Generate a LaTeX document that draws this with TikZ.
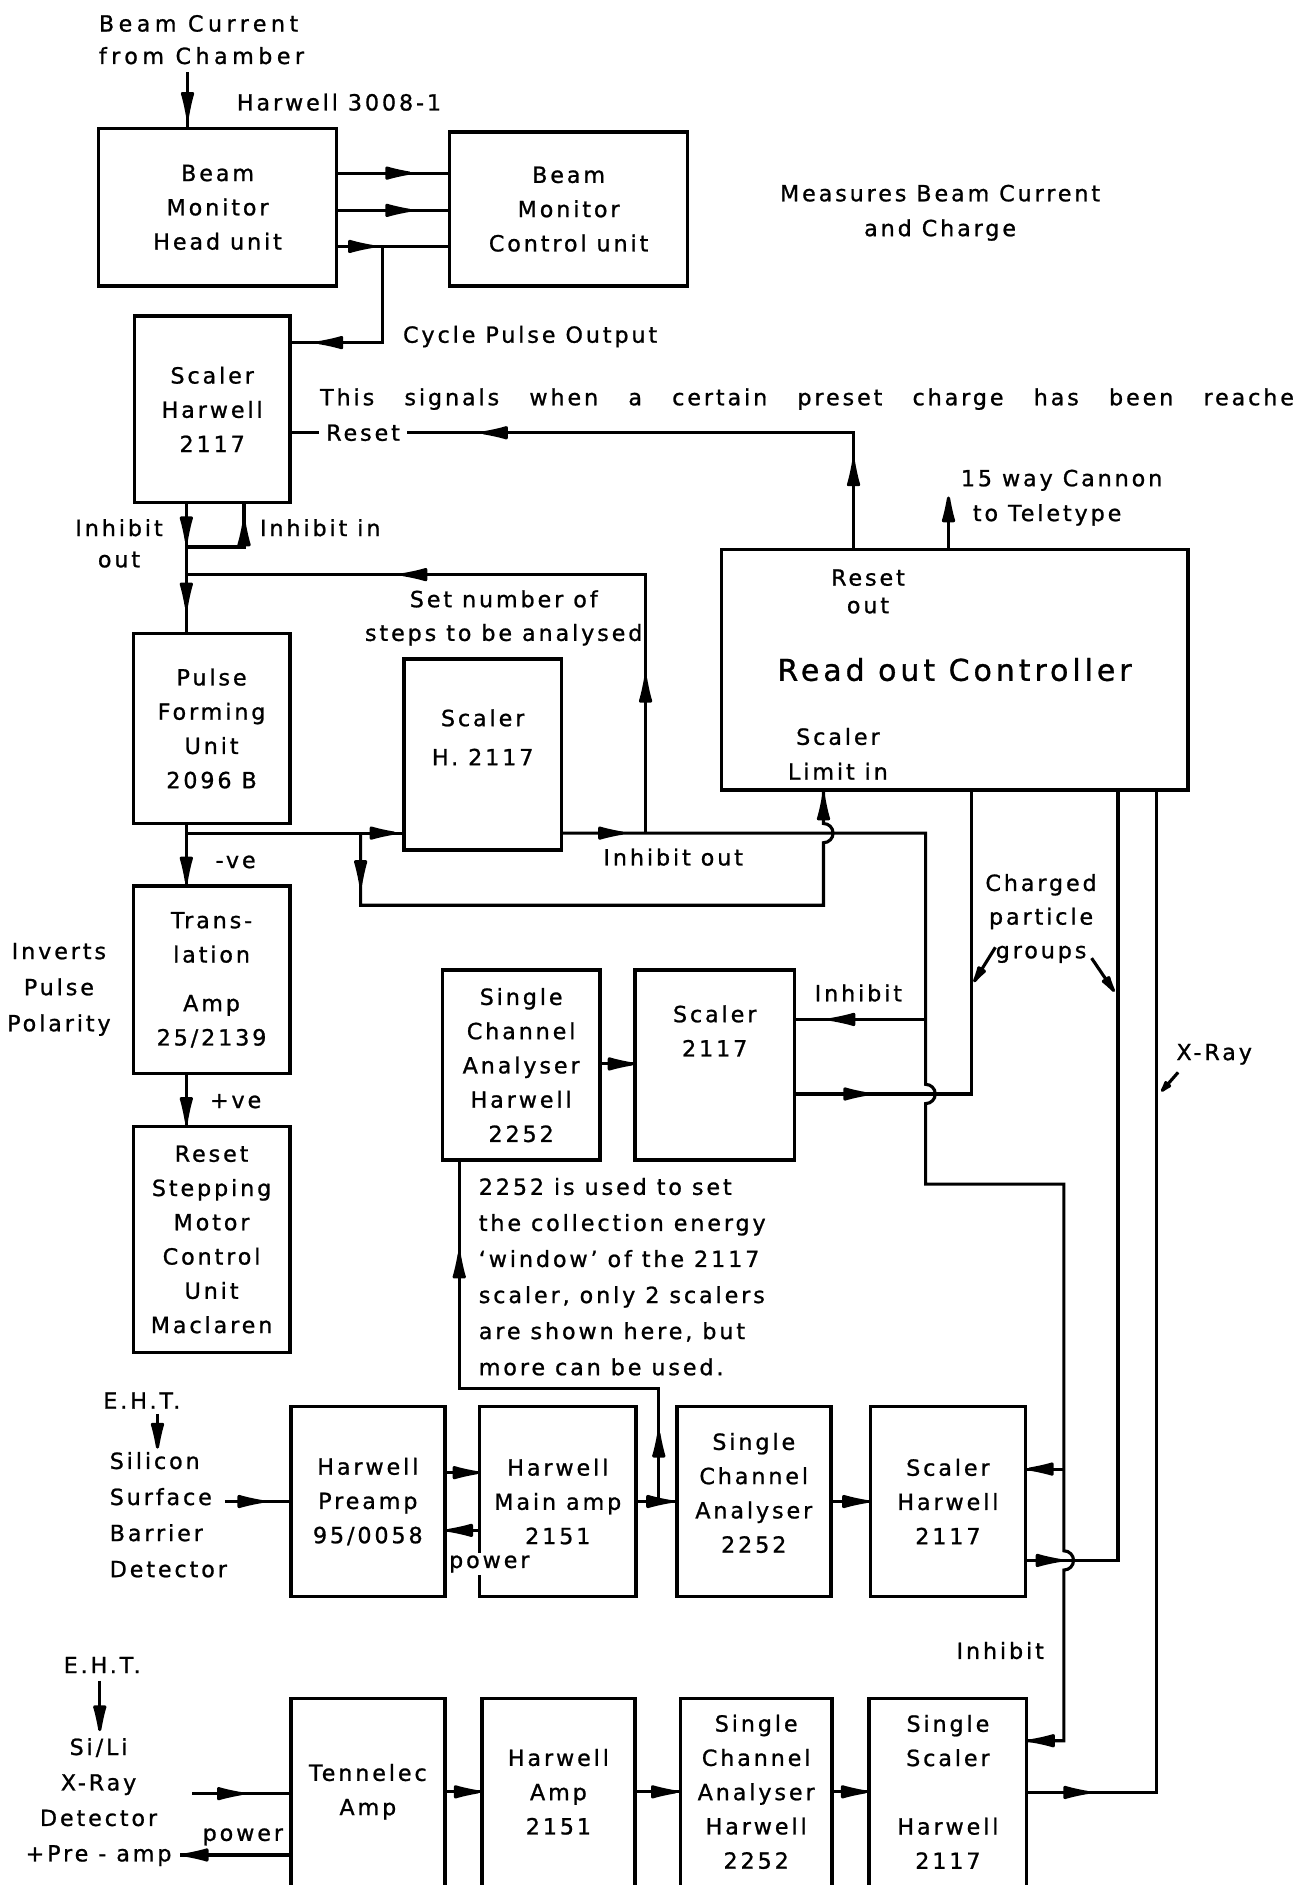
\documentclass[tikz,border=0pt]{standalone}
\usepackage{fontspec}
\setmainfont{DejaVu Sans}[LetterSpace=13, FakeBold=1]
\usetikzlibrary{arrows.meta, decorations.markings}
\tikzset{
    unitbox/.style={draw, line width=3pt, inner sep=0pt, outer sep=0pt,
        align=center, font=\fontsize{18.5}{28.5}\selectfont},
    openbox/.style={unitbox, draw=none},
    notetext/.style={inner sep=1pt, align=center,
        font=\fontsize{18.5}{29}\selectfont},
    midarrow/.style={postaction={decorate, decoration={markings,
        mark=at position #1 with {\arrow{>}}}}},
}

\begin{document}
\begin{tikzpicture}[x=1pt, y=-1pt, line width=2.6pt,
        >={Latex[length=30pt, width=12pt, round]}]
        \fill[white] (0,0) rectangle (1075,1568);
        \useasboundingbox (0,0) rectangle (1075,1568);

        % Units
        \node[unitbox, minimum width=198pt, minimum height=131pt] (headunit)
            at (181,172.5) {Beam\\Monitor\\Head unit};
        \node[unitbox, minimum width=198pt, minimum height=128pt] (controlunit)
            at (473,174) {Beam\\Monitor\\Control unit};
        \node[unitbox, minimum width=129pt, minimum height=155pt] (scalerone)
            at (176.5,340.5) {Scaler\\Harwell\\2117};
        \node[unitbox, minimum width=130pt, minimum height=158pt] (pulseform)
            at (176,606) {Pulse\\Forming\\Unit\\2096 B};
        \node[unitbox, minimum width=131pt, minimum height=159pt] (scalerh)
            at (401.5,627.5) {Scaler\\[4pt]H. 2117\\\mbox{}};
        \node[unitbox, minimum width=130pt, minimum height=156pt] (translation)
            at (176,815) {Trans-\\lation\\[12pt]Amp\\25/2139};
        \node[unitbox, minimum width=130pt, minimum height=188pt] (resetmotor)
            at (176,1031) {Reset\\Stepping\\Motor\\Control\\Unit\\Maclaren};
        \node[unitbox, minimum width=388pt, minimum height=200pt,
            font=\fontsize{25}{30}\selectfont] (readout)
            at (794,557) {Read out Controller};
        \node[unitbox, minimum width=131pt, minimum height=158pt] (scaone)
            at (433.5,886) {Single\\Channel\\Analyser\\Harwell\\2252};
        \node[unitbox, minimum width=133pt, minimum height=158pt] (scalertwo)
            at (594.5,886) {Scaler\\2117\\\mbox{}\\\mbox{}};
        \node[unitbox, minimum width=128pt, minimum height=158pt] (preamp)
            at (306,1249) {Harwell\\Preamp\\95/0058};
        \node[unitbox, minimum width=130pt, minimum height=158pt] (mainamp)
            at (464,1249) {Harwell\\Main amp\\2151};
        \node[unitbox, minimum width=128pt, minimum height=158pt] (scatwo)
            at (627,1249) {Single\\Channel\\Analyser\\2252\\[-14pt]\mbox{}};
        \node[unitbox, minimum width=129pt, minimum height=158pt] (scalerthree)
            at (788.5,1249) {Scaler\\Harwell\\2117};
        \node[openbox, minimum width=128pt, minimum height=155pt] (tennelec)
            at (306,1490.5) {Tennelec\\Amp};
        \node[openbox, minimum width=127pt, minimum height=155pt] (amptwo)
            at (464.5,1490.5) {Harwell\\Amp\\2151};
        \node[openbox, minimum width=126pt, minimum height=155pt] (scathree)
            at (629,1490.5) {Single\\Channel\\Analyser\\Harwell\\2252};
        \node[openbox, minimum width=131pt, minimum height=155pt] (singlescaler)
            at (788.5,1490.5) {Single\\Scaler\\\mbox{}\\Harwell\\2117};
        \foreach \n in {tennelec, amptwo, scathree, singlescaler}
            \draw[line width=3pt] (\n.south west) -- (\n.north west)
                -- (\n.north east) -- (\n.south east); % Cut by page edge

        % Labels
        \node[notetext, anchor=west, align=left,
            font=\fontsize{18.5}{27}\selectfont] (source)
            at (80,33) {\addfontfeature{LetterSpace=20}Beam Current\\
            \addfontfeature{LetterSpace=20}from Chamber};
        \node[notetext] (monitorid) at (282,85) {Harwell 3008-1};
        \node[notetext] (measures) at (782,177) {Measures Beam Current\\and Charge};
        \node[notetext, anchor=west] (cyclelbl) at (333,280) {Cycle Pulse Output};
        \node[notetext, anchor=west, inner sep=0pt] (chargenote) at (265,332)
            {\makebox[810pt][s]{This signals when a certain preset charge has been reache}};
        \node[notetext, inner xsep=5pt] (resetlbl) at (302,360) {Reset};
        \node[notetext, font=\fontsize{18.5}{26}\selectfont] (inhoutlbl)
            at (99,452) {Inhibit\\out};
        \node[notetext, anchor=west] (inhinlbl) at (214,439) {Inhibit in};
        \node[notetext, font=\fontsize{18.5}{28}\selectfont] (setnumber)
            at (419,514) {Set number of\\steps to be analysed};
        \node[notetext] (inhoutmid) at (560,713) {Inhibit out};
        \node[notetext] (negve) at (196,717) {-ve};
        \node[notetext] (posve) at (196,916) {+ve};
        \node[notetext, font=\fontsize{18.5}{30}\selectfont] (inverts)
            at (49,823) {Inverts\\Pulse\\Polarity};
        \node[notetext, anchor=west, align=left] (teletype) at (797,414)
            {15 way Cannon\\\hspace*{10pt}to Teletype};
        \node[notetext, font=\fontsize{18.5}{23}\selectfont] (resetout)
            at (722,492) {Reset\\out};
        \node[notetext] (limitin) at (697,627) {Scaler\\Limit in};
        \node[notetext, font=\fontsize{18.5}{28}\selectfont] (chargedgrp)
            at (866,764) {Charged\\particle\\groups};
        \node[notetext] (inhtwo) at (714,826) {Inhibit};
        \node[notetext] (xraylbl) at (1010,877) {X-Ray};
        \node[notetext, anchor=west, align=left,
            font=\fontsize{18.5}{30}\selectfont] (windownote) at (396,1062)
            {2252 is used to set\\the collection energy\\`window' of the 2117\\scaler, only 2 scalers\\are shown here, but\\more can be used.};
        \node[notetext] (ehtone) at (118,1165) {E.H.T.};
        \node[notetext, anchor=west, align=left,
            font=\fontsize{18.5}{30}\selectfont] (ssbdet) at (89,1260)
            {Silicon\\Surface\\Barrier\\Detector};
        \node[notetext] (inhthree) at (832,1373) {Inhibit};
        \node[notetext] (ehttwo) at (85,1385) {E.H.T.};
        \node[notetext, font=\fontsize{18.5}{29.5}\selectfont] (silidet)
            at (82,1499) {Si/Li\\X-Ray\\Detector\\+Pre - amp};
        \node[notetext] (powertwo) at (202,1528) {power};

        % Beam monitor
        \coordinate (beamin) at (156,60);
        \draw[midarrow=38pt] (beamin) -- (beamin |- headunit.north); % Beam current in
        \foreach \y/\p in {144/62pt, 175/62pt, 205/31pt}
            \draw[midarrow=\p] (headunit.east |- 0,\y) -- (controlunit.west |- 0,\y);
        \coordinate (cyclej) at (318,205);
        \draw[midarrow=134pt] (cyclej) -- (cyclej |- 0,285)
            -- (scalerone.east |- 0,285); % Cycle pulse
        \coordinate (resetj) at (710,360);
        \draw[midarrow=74pt, midarrow=406pt] (resetj |- readout.north)
            -- (resetj) -- (resetlbl.east); % Reset out
        \draw (resetlbl.west) -- (resetlbl.west -| scalerone.east);

        % Inhibit and stepping chain
        \coordinate (inhj) at (155,418);
        \draw[midarrow=33pt, midarrow=88pt] (inhj) -- (inhj |- pulseform.north);
        \draw[midarrow=70pt] (inhj |- 0,455) -- (203,455)
            -- (scalerone.south -| 203,0); % Inhibit in
        \coordinate (setj) at (537,693);
        \draw[midarrow=130pt, midarrow=418pt] (setj) -- (setj |- 0,478)
            -- (inhj |- 0,478); % Set number loop
        \draw[midarrow=49pt] (inhj |- pulseform.south) -- (inhj |- translation.north);
        \draw[midarrow=41pt] (inhj |- translation.south) -- (inhj |- resetmotor.north);
        \coordinate (pulsej) at (155,693);
        \draw[midarrow=174pt] (pulsej) -- (scalerh.west |- pulsej);
        \coordinate (loopj) at (300,693);
        \coordinate (limitj) at (685,753);
        \draw[midarrow=44pt, midarrow=-4pt] (loopj) -- (loopj |- limitj) -- (limitj)
            -- (685,701) arc[start angle=90, end angle=-90, radius=8]
            -- (limitj |- readout.south); % Scaler limit in

        % Inhibit bus
        \coordinate (inhA) at (770,693);
        \coordinate (inhB) at (770,848);
        \coordinate (inhC) at (770,985);
        \coordinate (inhD) at (885,985);
        \coordinate (inhE) at (885,1222);
        \coordinate (inhF) at (885,1448);
        \draw[midarrow=52pt, midarrow=-2pt] (scalerh.east |- inhA) -- (inhA)
            -- (770,902) arc[start angle=-90, end angle=90, radius=8] -- (inhC)
            -- (inhD) -- (885,1290) arc[start angle=-90, end angle=90, radius=8]
            -- (inhF) -- (singlescaler.east |- inhF);
        \draw[midarrow=80pt] (inhB) -- (scalertwo.east |- inhB);
        \draw[midarrow=30pt] (inhE) -- (scalerthree.east |- inhE);

        % Counts to read out
        \coordinate (chgA) at (808,910);
        \draw[midarrow=62pt] (scalertwo.east |- chgA) -- (chgA) -- (chgA |- readout.south);
        \coordinate (chgB) at (930,1298);
        \draw[midarrow=30pt] (scalerthree.east |- chgB) -- (chgB) -- (chgB |- readout.south);
        \coordinate (xrayj) at (962,1491);
        \draw[midarrow=52pt] (singlescaler.east |- xrayj) -- (xrayj)
            -- (xrayj |- readout.south);
        \coordinate (ttyout) at (789,413);
        \draw[->] (ttyout |- readout.north) -- (ttyout); % To teletype
        \coordinate (cpgl) at (810,817);
        \coordinate (cpgr) at (927,825);
        \coordinate (xrayp) at (966,908);
        \draw[->, >={Latex[length=22pt, width=9pt, round]}] (828,788) -- (cpgl);
        \draw[->, >={Latex[length=22pt, width=9pt, round]}] (908,797) -- (cpgr);
        \draw[->, >={Latex[length=16pt, width=8pt, round]}] (980,892) -- (xrayp);

        % Silicon detector chain
        \draw[midarrow=28pt] (scaone.east |- 0,885) -- (scalertwo.west |- 0,885);
        \coordinate (ssbin) at (131,1205);
        \draw[->] (ssbin |- 0,1176) -- (ssbin);
        \coordinate (ssbout) at (187,1249);
        \draw[midarrow=32pt] (ssbout) -- (preamp.west);
        \draw[midarrow=28pt] (preamp.east |- 0,1225) -- (mainamp.west |- 0,1225);
        \draw[midarrow=27pt] (mainamp.west |- 0,1273) -- (preamp.east |- 0,1273); % Power
        \draw[midarrow=30pt] (mainamp.east) -- (scatwo.west);
        \draw[midarrow=31pt] (scatwo.east) -- (scalerthree.west);
        \coordinate (gatej) at (548,1249);
        \coordinate (gatec) at (382,1155);
        \draw[midarrow=58pt, midarrow=373pt] (gatej) -- (gatej |- gatec) -- (gatec)
            -- (gatec |- scaone.south); % Energy window
        \node[notetext, fill=white, inner sep=2pt] (mainpower) at (407,1301) {power};

        % Si/Li detector chain
        \coordinate (siliin) at (83,1440);
        \draw[->] (siliin |- 0,1398) -- (siliin);
        \coordinate (siliout) at (160,1492);
        \draw[midarrow=42pt] (siliout) -- (tennelec.west |- siliout);
        \coordinate (silipow) at (150,1543);
        \draw[midarrow=90pt] (tennelec.west |- silipow) -- (silipow); % Power
        \draw[midarrow=29pt] (tennelec.east) -- (amptwo.west);
        \draw[midarrow=35pt] (amptwo.east) -- (scathree.west);
        \draw[midarrow=29pt] (scathree.east) -- (singlescaler.west);
    \end{tikzpicture}
\end{document}
